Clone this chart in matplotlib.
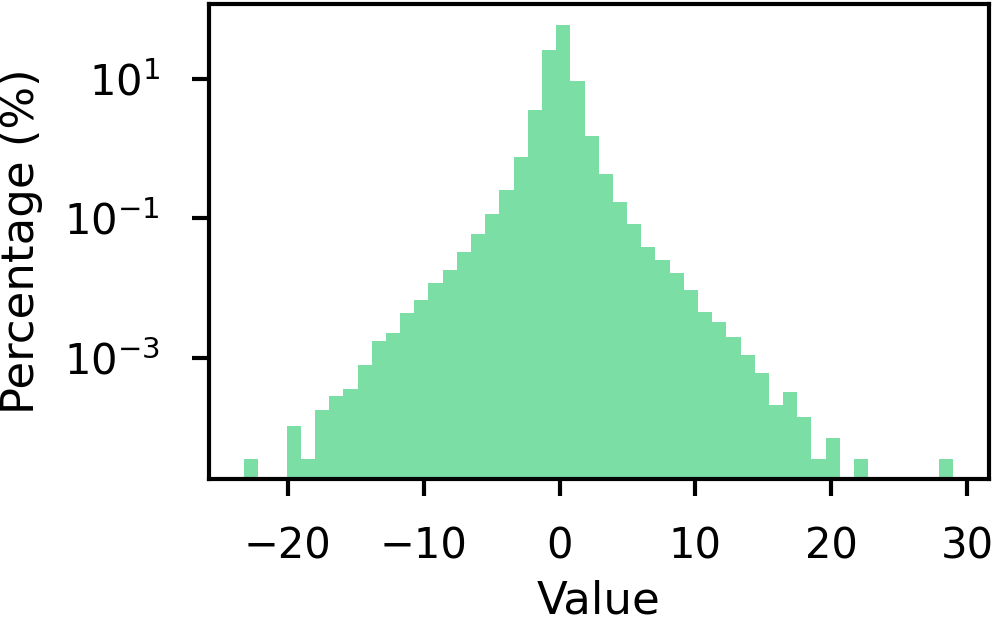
import numpy as np
import matplotlib
matplotlib.use("Agg")
import matplotlib.pyplot as plt
from matplotlib.ticker import FixedLocator, NullLocator, LogFormatterSciNotation

# Histogram: 50 equal bins between value_min and value_max
value_min = -23.22
value_max = 28.99
n_bins = 50

# Percentage (%) in each bin (0 = empty bin)
percentages = [
    3.48e-5, 0, 0, 1.06e-4, 3.52e-5, 1.77e-4, 2.84e-4, 3.55e-4, 7.85e-4, 1.76e-3,
    2.29e-3, 4.44e-3, 6.76e-3, 0.0120, 0.0180, 0.0335, 0.0589, 0.114, 0.259, 0.755,
    3.55, 26.1, 60.4, 9.47, 1.55, 0.440, 0.174, 0.0820, 0.0395, 0.0257,
    0.0163, 9.51e-3, 4.59e-3, 3.22e-3, 1.99e-3, 1.10e-3, 6.03e-4, 2.13e-4, 3.17e-4, 1.42e-4,
    3.52e-5, 7.06e-5, 0, 3.52e-5, 0, 0, 0, 0, 0, 3.52e-5,
]

x_ticks = [-20, -10, 0, 10, 20, 30]
y_ticks = [1e-3, 1e-1, 1e1]

edges = np.linspace(value_min, value_max, n_bins + 1)
centers = 0.5 * (edges[:-1] + edges[1:])

fig = plt.figure(figsize=(4.98, 3.135), dpi=200)
ax = fig.add_axes([0.2095, 0.2356, 0.7832, 0.758])

ax.hist(centers, bins=edges, weights=percentages, color="#2ecc71", alpha=0.63,
        log=True)

ax.set_yscale("log")
ax.set_ylim(10 ** -4.745, 10 ** 2.079)
ax.yaxis.set_major_locator(FixedLocator(y_ticks))
ax.yaxis.set_major_formatter(LogFormatterSciNotation())
ax.yaxis.set_minor_locator(NullLocator())
ax.set_xticks(x_ticks)

ax.set_xlabel("Value", fontsize=16.2, labelpad=4.5)
ax.set_ylabel("Percentage (%)", fontsize=16.2, labelpad=7.5)
ax.tick_params(axis="both", which="major", labelsize=15, length=6, width=1.5, pad=10.5)
ax.tick_params(axis="y", pad=11.5)
for s in ax.spines.values():
    s.set_linewidth(1.5)

fig.savefig("out.png", dpi=200)
